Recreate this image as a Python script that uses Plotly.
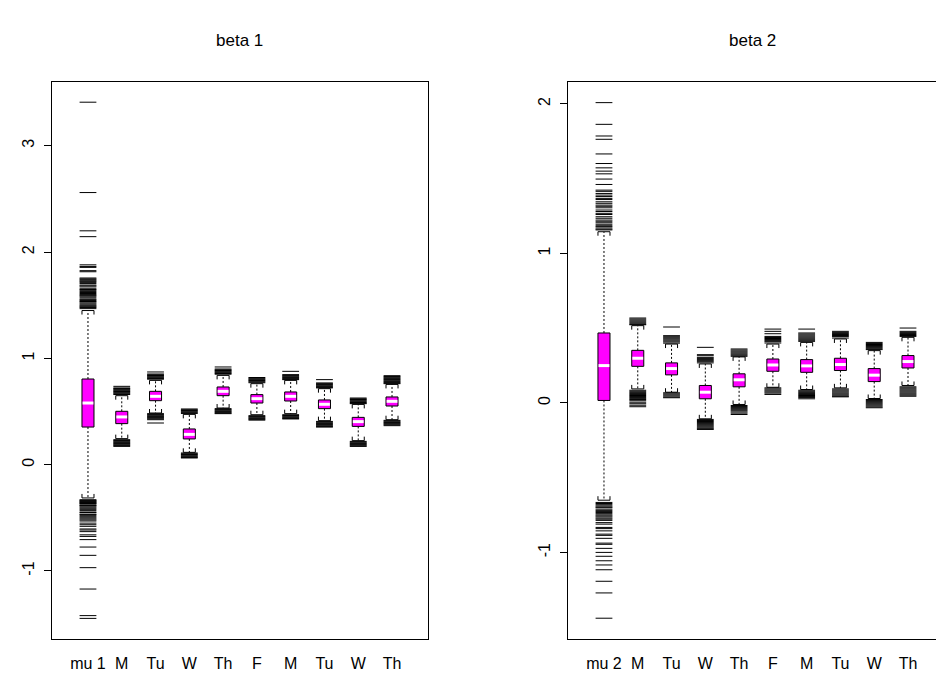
import plotly.graph_objects as go

W, H = 936, 681
FONT = "Liberation Sans, Arial, Helvetica, sans-serif"

# ---------------- beta 1 ----------------
labels_1 = ["mu 1", "M", "Tu", "W", "Th", "F", "M", "Tu", "W", "Th"]
low_1 = [-0.313, 0.245, 0.486, 0.116, 0.533, 0.470, 0.480, 0.414, 0.226, 0.423]
q1_1 = [0.354, 0.386, 0.602, 0.242, 0.649, 0.580, 0.599, 0.527, 0.360, 0.552]
med_1 = [0.580, 0.449, 0.643, 0.285, 0.690, 0.621, 0.643, 0.568, 0.405, 0.596]
q3_1 = [0.806, 0.502, 0.690, 0.336, 0.731, 0.659, 0.684, 0.609, 0.445, 0.637]
up_1 = [1.450, 0.649, 0.793, 0.473, 0.840, 0.762, 0.793, 0.715, 0.567, 0.755]
out_1 = [
    [3.41, 2.56, 2.20, 2.145, 1.88, 1.865, 1.856, 1.825, 1.815, 1.756, 1.748, 1.74, 1.73,
     1.725, 1.715, 1.705, 1.69, 1.682, 1.672, 1.655, 1.648, 1.64, 1.63, 1.62, 1.61, 1.60,
     1.593, 1.585, 1.575, 1.56, 1.552, 1.545, 1.535, 1.53, 1.52, 1.51, 1.50, 1.492, 1.485,
     1.478, 1.468,
     -0.33, -0.335, -0.34, -0.345, -0.35, -0.355, -0.36, -0.365, -0.37, -0.38, -0.385,
     -0.39, -0.40, -0.41, -0.42, -0.43, -0.445, -0.45, -0.465, -0.47, -0.48, -0.49, -0.50,
     -0.51, -0.52, -0.53, -0.55, -0.565, -0.58, -0.605, -0.615, -0.63, -0.66, -0.675,
     -0.705, -0.775, -0.853, -0.969, -1.17, -1.42, -1.446],
    [0.737, 0.722, 0.716, 0.709, 0.702, 0.695, 0.688, 0.681, 0.674, 0.667, 0.66,
     0.235, 0.228, 0.221, 0.214, 0.207, 0.20, 0.193, 0.186, 0.179, 0.172],
    [0.872, 0.853, 0.846, 0.839, 0.832, 0.825, 0.818, 0.811, 0.804,
     0.48, 0.473, 0.466, 0.459, 0.452, 0.445, 0.438, 0.431, 0.423, 0.392],
    [0.524, 0.517, 0.51, 0.503, 0.496, 0.489, 0.482,
     0.11, 0.103, 0.096, 0.089, 0.082, 0.075, 0.068, 0.063],
    [0.919, 0.90, 0.893, 0.886, 0.879, 0.872, 0.865, 0.858, 0.851,
     0.527, 0.52, 0.513, 0.506, 0.499, 0.492, 0.485, 0.48],
    [0.82, 0.813, 0.806, 0.799, 0.792, 0.785, 0.778, 0.771,
     0.461, 0.454, 0.447, 0.44, 0.433, 0.426, 0.419],
    [0.878, 0.847, 0.84, 0.833, 0.826, 0.819, 0.812, 0.805, 0.80,
     0.47, 0.463, 0.456, 0.449, 0.442, 0.435, 0.43],
    [0.80, 0.769, 0.762, 0.755, 0.748, 0.741, 0.734, 0.727, 0.722,
     0.407, 0.40, 0.393, 0.386, 0.379, 0.372, 0.365, 0.358, 0.354],
    [0.627, 0.62, 0.613, 0.606, 0.599, 0.592, 0.585, 0.578, 0.574,
     0.219, 0.212, 0.205, 0.198, 0.191, 0.184, 0.177, 0.172],
    [0.837, 0.83, 0.823, 0.816, 0.809, 0.802, 0.795, 0.788, 0.781, 0.774, 0.767, 0.762,
     0.417, 0.41, 0.403, 0.396, 0.389, 0.382, 0.375, 0.367],
]
yticks_1 = [-1, 0, 1, 2, 3]

# ---------------- beta 2 ----------------
labels_2 = ["mu 2", "M", "Tu", "W", "Th", "F", "M", "Tu", "W", "Th"]
low_2 = [-0.650, 0.094, 0.072, -0.106, -0.010, 0.105, 0.090, 0.101, 0.030, 0.117]
q1_2 = [0.017, 0.245, 0.188, 0.028, 0.108, 0.212, 0.205, 0.217, 0.143, 0.234]
med_2 = [0.250, 0.299, 0.230, 0.072, 0.155, 0.254, 0.248, 0.257, 0.186, 0.277]
q3_2 = [0.468, 0.352, 0.268, 0.117, 0.195, 0.294, 0.290, 0.299, 0.230, 0.317]
up_2 = [1.145, 0.517, 0.394, 0.261, 0.308, 0.394, 0.405, 0.428, 0.350, 0.439]
out_2 = [
    [2.008, 1.863, 1.785, 1.763, 1.665, 1.601, 1.572, 1.55, 1.532, 1.497, 1.461, 1.423,
     1.415, 1.401, 1.39, 1.38, 1.368, 1.36, 1.345, 1.335, 1.323, 1.315, 1.305, 1.29, 1.28,
     1.268, 1.26, 1.245, 1.235, 1.223, 1.215, 1.205, 1.195, 1.185, 1.179, 1.17, 1.162, 1.157,
     -0.665, -0.672, -0.68, -0.688, -0.695, -0.70, -0.71, -0.718, -0.725, -0.732, -0.74,
     -0.748, -0.755, -0.762, -0.77, -0.777, -0.785, -0.80, -0.81, -0.832, -0.84, -0.855,
     -0.877, -0.885, -0.905, -0.937, -0.945, -0.972, -0.999, -1.025, -1.055, -1.083,
     -1.115, -1.192, -1.27, -1.439],
    [0.568, 0.561, 0.554, 0.547, 0.54, 0.533, 0.526, 0.523,
     0.085, 0.078, 0.071, 0.064, 0.057, 0.05, 0.043, 0.036, 0.029, 0.023, 0.015, 0.005,
     -0.005, -0.015, -0.025],
    [0.508, 0.45, 0.443, 0.436, 0.429, 0.422, 0.415, 0.408, 0.40,
     0.068, 0.061, 0.054, 0.047, 0.04, 0.035],
    [0.372, 0.323, 0.316, 0.305, 0.298, 0.29, 0.283, 0.276, 0.268,
     -0.11, -0.117, -0.124, -0.131, -0.138, -0.145, -0.152, -0.159, -0.166, -0.172, -0.177],
    [0.361, 0.354, 0.347, 0.34, 0.333, 0.326, 0.319, 0.312,
     -0.017, -0.024, -0.031, -0.038, -0.045, -0.052, -0.06, -0.068, -0.077],
    [0.494, 0.479, 0.463, 0.445, 0.438, 0.431, 0.424, 0.417, 0.41, 0.401,
     0.101, 0.094, 0.087, 0.08, 0.073, 0.066, 0.057],
    [0.494, 0.468, 0.461, 0.454, 0.447, 0.44, 0.433, 0.426, 0.419, 0.412,
     0.085, 0.078, 0.071, 0.064, 0.057, 0.05, 0.043, 0.036, 0.028],
    [0.479, 0.472, 0.465, 0.458, 0.451, 0.444, 0.434,
     0.094, 0.087, 0.08, 0.073, 0.066, 0.059, 0.052, 0.045, 0.041],
    [0.405, 0.398, 0.391, 0.384, 0.377, 0.37, 0.363, 0.357,
     0.023, 0.016, 0.009, 0.002, -0.005, -0.012, -0.019, -0.026, -0.032],
    [0.501, 0.479, 0.472, 0.465, 0.458, 0.451, 0.445,
     0.108, 0.101, 0.094, 0.087, 0.08, 0.073, 0.066, 0.059, 0.052, 0.045],
]
yticks_2 = [-1, 0, 1, 2]

titles = ["beta 1", "beta 2"]

# ---------------- layout geometry (pixels) ----------------
PLOT_TOP, PLOT_BOTTOM = 82, 639
LEFT1, RIGHT1 = 52, 428
LEFT2 = 568
UNIT_X = 33.78           # px per box slot
BOX_HALF = 0.178          # box half width (x units)
XPAD = 1.065              # space from plot edge to first/last box (x units)
yr_1 = [-1.64, 3.60]
yr_2 = [-1.578, 2.146]

MAGENTA = "#FF00FF"

fig = go.Figure()


def add_panel(xa, ya, labels, low, q1, med, q3, up, outs, yrange):
    n = len(labels)
    pos = list(range(1, n + 1))
    px_per_y = (PLOT_BOTTOM - PLOT_TOP) / (yrange[1] - yrange[0])
    tick = 4.0 / px_per_y
    # whiskers
    wx, wy = [], []
    for c, lo, a, b, hi in zip(pos, low, q1, q3, up):
        wx += [c, c, None, c, c, None]
        wy += [b, hi, None, a, lo, None]
    fig.add_trace(go.Scatter(x=wx, y=wy, xaxis=xa, yaxis=ya, mode="lines",
                             line=dict(color="black", width=1, dash="2px,2px"),
                             hoverinfo="skip", showlegend=False))
    # staples (with small end ticks)
    sx, sy = [], []
    for c, lo, hi in zip(pos, low, up):
        sx += [c - BOX_HALF, c - BOX_HALF, c + BOX_HALF, c + BOX_HALF, None]
        sy += [hi - tick, hi, hi, hi - tick, None]
        sx += [c - BOX_HALF, c - BOX_HALF, c + BOX_HALF, c + BOX_HALF, None]
        sy += [lo + tick, lo, lo, lo + tick, None]
    fig.add_trace(go.Scatter(x=sx, y=sy, xaxis=xa, yaxis=ya, mode="lines",
                             line=dict(color="black", width=1),
                             hoverinfo="skip", showlegend=False))
    # outliers
    ox, oy = [], []
    for c, vals in zip(pos, outs):
        ox += [c] * len(vals)
        oy += vals
    fig.add_trace(go.Scatter(x=ox, y=oy, xaxis=xa, yaxis=ya, mode="markers",
                             marker=dict(symbol="line-ew", size=12,
                                         line=dict(color="black", width=1)),
                             hoverinfo="skip", showlegend=False))
    # boxes
    for c, a, b in zip(pos, q1, q3):
        fig.add_trace(go.Scatter(
            x=[c - BOX_HALF, c + BOX_HALF, c + BOX_HALF, c - BOX_HALF, c - BOX_HALF],
            y=[a, a, b, b, a], xaxis=xa, yaxis=ya, mode="lines", fill="toself",
            fillcolor=MAGENTA, line=dict(color="black", width=1),
            hoverinfo="skip", showlegend=False))
    # medians
    mx, my = [], []
    for c, m in zip(pos, med):
        mx += [c - BOX_HALF * 0.9, c + BOX_HALF * 0.9, None]
        my += [m, m, None]
    fig.add_trace(go.Scatter(x=mx, y=my, xaxis=xa, yaxis=ya, mode="lines",
                             line=dict(color="white", width=3),
                             hoverinfo="skip", showlegend=False))


add_panel("x", "y", labels_1, low_1, q1_1, med_1, q3_1, up_1, out_1, yr_1)
add_panel("x2", "y2", labels_2, low_2, q1_2, med_2, q3_2, up_2, out_2, yr_2)

ydom = [(H - PLOT_BOTTOM) / H, (H - PLOT_TOP) / H]
n1 = len(labels_1)
xr_1 = [1 - XPAD, n1 + XPAD]
xr_2 = [1 - XPAD, 1 - XPAD + (W - LEFT2) / UNIT_X]

axis_common = dict(showgrid=False, zeroline=False, showline=True, linecolor="black",
                   linewidth=1)
tickfont = dict(family=FONT, size=16, color="black")

fig.update_layout(
    width=W, height=H,
    margin=dict(l=0, r=0, t=0, b=0),
    paper_bgcolor="white", plot_bgcolor="white",
    showlegend=False,
    xaxis=dict(domain=[LEFT1 / W, RIGHT1 / W], range=xr_1, anchor="y",
               tickvals=list(range(1, n1 + 1)), ticktext=labels_1, ticks="",
               tickangle=0, tickfont=tickfont, mirror=True, ticklabelstandoff=10,
               **axis_common),
    yaxis=dict(domain=ydom, range=yr_1, anchor="x", tickvals=yticks_1,
               ticktext=[str(v) for v in yticks_1], ticks="outside", ticklen=7,
               tickcolor="black", tickangle=-90, tickfont=tickfont, mirror=True,
               ticklabelstandoff=4, **axis_common),
    xaxis2=dict(domain=[LEFT2 / W, 1.0], range=xr_2, anchor="y2",
                tickvals=list(range(1, len(labels_2) + 1)), ticktext=labels_2, ticks="",
                tickangle=0, tickfont=tickfont, mirror=True, ticklabelstandoff=10,
                **axis_common),
    yaxis2=dict(domain=ydom, range=yr_2, anchor="x2", tickvals=yticks_2,
                ticktext=[str(v) for v in yticks_2], ticks="outside", ticklen=7,
                tickcolor="black", tickangle=-90, tickfont=tickfont,
                ticklabelstandoff=4, **axis_common),
    annotations=[
        dict(text=titles[0], x=(LEFT1 + RIGHT1) / 2 / W, y=(H - 40) / H, xref="paper",
             yref="paper", showarrow=False, xanchor="center", yanchor="middle",
             font=dict(family=FONT, size=17, color="black")),
        dict(text=titles[1], x=752 / W, y=(H - 40) / H, xref="paper",
             yref="paper", showarrow=False, xanchor="center", yanchor="middle",
             font=dict(family=FONT, size=17, color="black")),
    ],
)

fig.write_html("out.html", config={"displayModeBar": False})
